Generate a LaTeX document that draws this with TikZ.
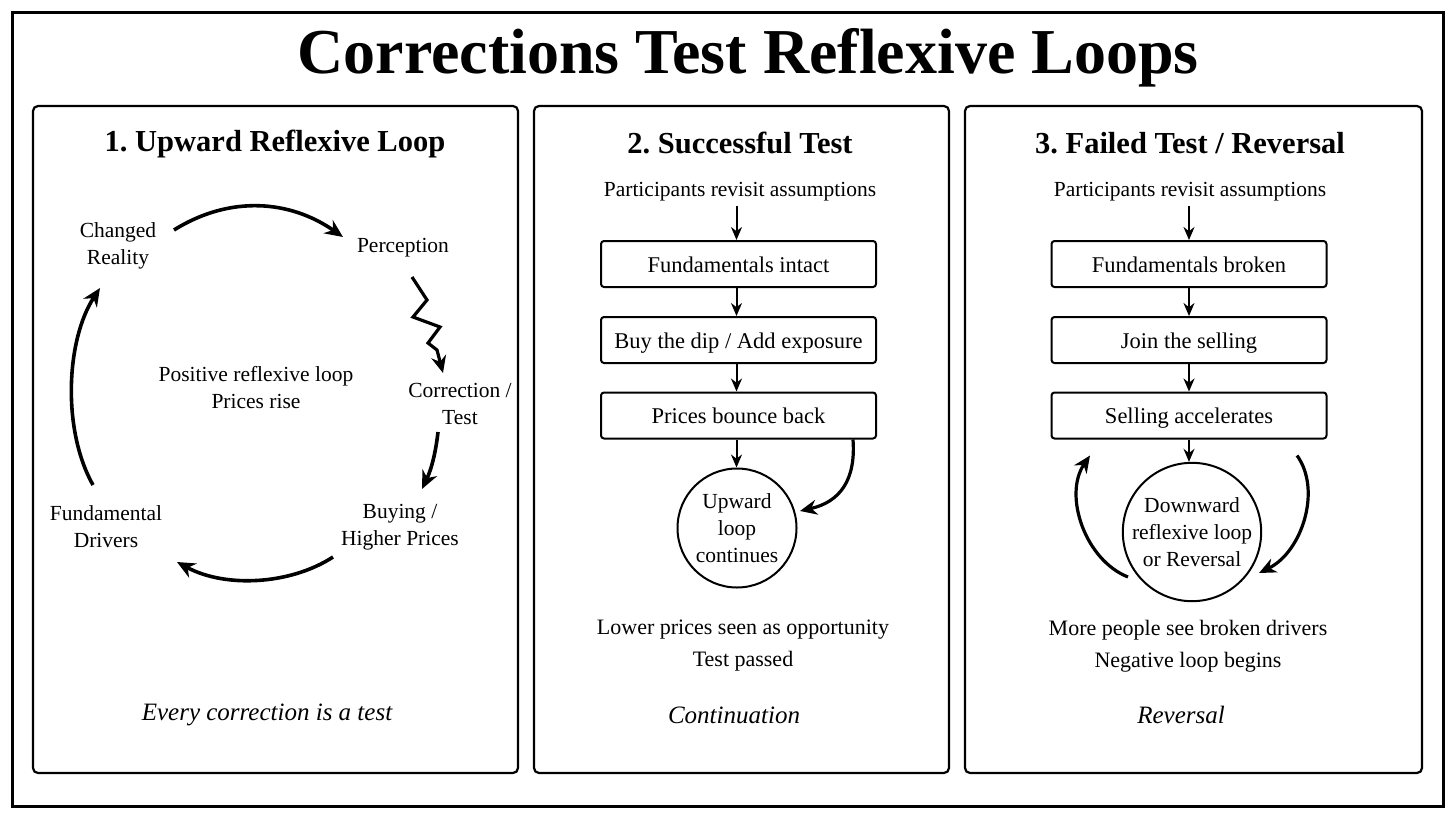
\documentclass[tikz,border=0pt]{standalone}
\usepackage{fontspec}
\setmainfont{Liberation Serif}
\usetikzlibrary{arrows.meta}
\frenchspacing
\begin{document}
\begin{tikzpicture}[x=1pt,y=-1pt,
  panel/.style={draw, line width=2.2pt, rounded corners=5pt},
  lbl/.style={align=center, font=\fontsize{21.5}{27}\selectfont, inner sep=1pt},
  note/.style={align=center, font=\fontsize{22}{32}\selectfont, inner sep=1pt},
  head/.style={font=\bfseries\fontsize{30.5}{34}\selectfont, inner sep=0pt},
  foot/.style={font=\itshape\fontsize{25}{28}\selectfont, inner sep=0pt},
  stepbox/.style={draw, line width=2pt, rounded corners=3pt, minimum width=275pt, minimum height=46pt, inner sep=0pt, text height=18pt, text depth=2pt, font=\fontsize{22.5}{27}\selectfont},
  ring/.style={draw, circle, line width=2pt, inner sep=0pt, align=center, font=\fontsize{21.5}{27}\selectfont},
  big/.style={-{Stealth[length=18pt,width=16pt]}, line width=3.6pt},
  med/.style={-{Stealth[length=17pt,width=15pt]}, line width=3.2pt},
  small/.style={-{Stealth[length=13pt,width=11pt]}, line width=2pt}
]
\useasboundingbox (0,0) rectangle (1456,819);
\fill[white] (0,0) rectangle (1456,819);
\draw[line width=3pt] (12,12) rectangle (1443,806);
\node[font=\bfseries\fontsize{64}{70}\selectfont, inner sep=0pt] (title) at (748,58) {Corrections Test Reflexive Loops};

% panels
\draw[panel] (33,106) rectangle (518,773);
\draw[panel] (534,106) rectangle (949,773);
\draw[panel] (965,106) rectangle (1422,773);

% Panel 1
\node[head] (h1) at (275,144) {1. Upward Reflexive Loop};
\node[lbl] (cr) at (118,246) {Changed\\Reality};
\node[lbl] (perc) at (403,248) {Perception};
\node[lbl] (corr) at (460,404) {Correction /\\Test};
\node[lbl] (buy) at (400,527) {Buying /\\Higher Prices};
\node[lbl] (fund) at (106,527) {Fundamental\\Drivers};
\node[lbl] (mid) at (256,388) {Positive reflexive loop\\Prices rise};
\node[foot] (f1) at (267,715) {Every correction is a test};

\draw[big] ([shift={(56,-16)}]cr.center) .. controls (230,195) and (290,200) .. ([shift={(-60,-11)}]perc.center);
\draw[med, line join=miter] ([shift={(9,29)}]perc.center) -- ++(15,23) -- ++(-14,17) -- ++(27,10) -- ++(-12,16) -- ++(9,7) -- ([shift={(-17,-31)}]corr.center);
\draw[big] ([shift={(-22,28)}]corr.center) .. controls (436,450) and (432,468) .. ([shift={(22,-38)}]buy.center);
\draw[big] ([shift={(-67,30)}]buy.center) .. controls (290,585) and (225,588) .. ([shift={(71,35)}]fund.center);
\draw[big] ([shift={(-13,-42)}]fund.center) .. controls (62,430) and (66,340) .. ([shift={(-18,42)}]cr.center);

% Panel 2
\node[head] (h2) at (740,143) {2. Successful Test};
\node[lbl] (p2) at (740,192) {Participants revisit assumptions};
\node[stepbox] (a1) at (738.5,264) {Fundamentals intact};
\node[stepbox] (a2) at (738.5,340) {Buy the dip / Add exposure};
\node[stepbox] (a3) at (738.5,415.5) {Prices bounce back};
\node[ring, minimum size=119pt] (c2) at (737,528) {Upward\\loop\\continues};
\node[note] (t2) at (743,646) {Lower prices seen as opportunity\\Test passed};
\node[foot] (f2) at (734,715) {Continuation};

\coordinate (s2) at (a1.north |- p2.south);
\draw[small] ([shift={(-2,3)}]s2) -- ([xshift=-2pt]a1.north);
\draw[small] ([xshift=-2pt]a1.south) -- ([xshift=-2pt]a2.north);
\draw[small] ([xshift=-2pt]a2.south) -- ([xshift=-2pt]a3.north);
\draw[small] ([xshift=-2pt]a3.south) -- ([xshift=-2pt]a3.south |- c2.north);
\draw[med] ([shift={(-24,0)}]a3.south east) .. controls (856,480) and (840,502) .. ([shift={(63,-17)}]c2.center);

% Panel 3
\node[head] (h3) at (1190,143) {3. Failed Test / Reversal};
\node[lbl] (p3) at (1190,192) {Participants revisit assumptions};
\node[stepbox] (b1) at (1189,264) {Fundamentals broken};
\node[stepbox] (b2) at (1189,340) {Join the selling};
\node[stepbox] (b3) at (1189,415.5) {Selling accelerates};
\node[ring, minimum size=132pt] (c3) at (1192,532) {Downward\\reflexive loop\\or Reversal};
\node[note] (t3) at (1188,646) {More people see broken drivers\\Negative loop begins};
\node[foot] (f3) at (1181,715) {Reversal};

\coordinate (s3) at (b1.north |- p3.south);
\draw[small] ([shift={(0,3)}]s3) -- (b1.north);
\draw[small] (b1.south) -- (b2.north);
\draw[small] (b2.south) -- (b3.north);
\draw[small] (b3.south) -- (b3.south |- c3.north);
\draw[med] ([shift={(-64,45)}]c3.center) .. controls (1085,560) and (1063,495) .. ([shift={(-99,16)}]b3.south);
\draw[med] ([shift={(108,16)}]b3.south) .. controls (1322,490) and (1302,552) .. ([shift={(67,41)}]c3.center);
\end{tikzpicture}
\end{document}
